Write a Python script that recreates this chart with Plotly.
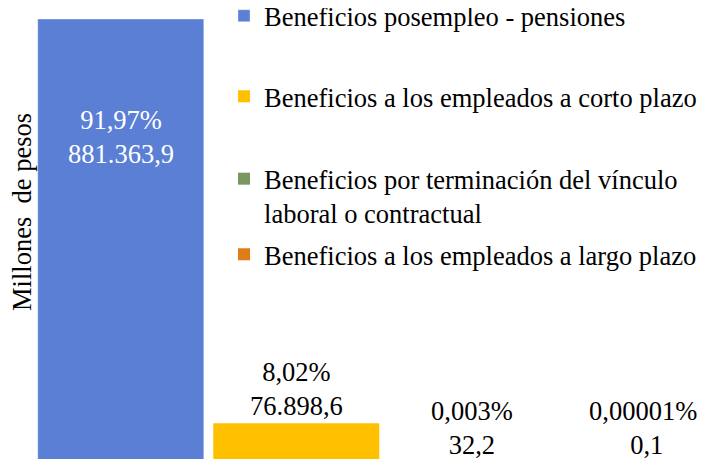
import plotly.graph_objects as go

categories = [
    "Beneficios posempleo - pensiones",
    "Beneficios a los empleados a corto plazo",
    "Beneficios por terminación del vínculo<br>laboral o contractual",
    "Beneficios a los empleados a largo plazo",
]
values = [881363.9, 76898.6, 32.2, 0.1]
percent_labels = ["91,97%", "8,02%", "0,003%", "0,00001%;"]
y_title = "Millones\u00a0 de pesos"

colors = ["#5A7FD5", "#FFC000", "#7A9763", "#E07C16"]
FONT = "Liberation Serif"
FS = 26.5


def es_num(v):
    s = f"{v:,.1f}"
    return s.replace(",", "X").replace(".", ",").replace("X", ".")


labels = [f"{p}<br>{es_num(v)}" for p, v in zip(percent_labels, values)]

fig = go.Figure()
legend_ids = ["legend", "legend2", "legend3", "legend4"]
for i, (cat, v) in enumerate(zip(categories, values)):
    fig.add_trace(go.Bar(
        x=[cat], y=[v], name=cat,
        marker=dict(color=colors[i],
                    line=dict(width=1 if i == 0 else 0, color="rgba(255,255,255,0.35)")),
        legend=legend_ids[i],
        hoverinfo="skip",
    ))

# data labels
for i, (cat, v) in enumerate(zip(categories, values)):
    if i == 0:
        fig.add_annotation(x=cat, y=v, xref="x", yref="y", text=labels[i],
                           showarrow=False, yanchor="top", yshift=-84,
                           font=dict(family=FONT, size=FS, color="white"))
    else:
        fig.add_annotation(x=cat, y=v, xref="x", yref="y", text=labels[i],
                           showarrow=False, yanchor="bottom", yshift=0,
                           font=dict(family=FONT, size=FS, color="black"))

# y axis title
fig.add_annotation(x=-0.0162, y=0.5507, xref="paper", yref="paper",
                   text=y_title, showarrow=False, textangle=-90,
                   xanchor="center", yanchor="middle",
                   font=dict(family=FONT, size=FS, color="black"))

leg_common = dict(xanchor="left", yanchor="middle", x=0.2805,
                  font=dict(family=FONT, size=FS, color="black"),
                  bgcolor="rgba(0,0,0,0)", valign="top")
fig.update_layout(
    width=706, height=459,
    margin=dict(l=25, r=0, t=0, b=5, autoexpand=False),
    paper_bgcolor="white", plot_bgcolor="white",
    font=dict(family=FONT, size=FS, color="black"),
    barmode="overlay", bargap=0.054,
    showlegend=True,
    legend=dict(y=0.9824, **leg_common),
    legend2=dict(y=0.805, **leg_common),
    legend3=dict(y=0.586, **leg_common),
    legend4=dict(y=0.457, **leg_common),
    xaxis=dict(range=[-0.5, 3.38], showticklabels=False, showgrid=False,
               zeroline=False, showline=False, ticks=""),
    yaxis=dict(range=[0, 903249], visible=False, showgrid=False, zeroline=False),
)

fig.write_html("out.html")
